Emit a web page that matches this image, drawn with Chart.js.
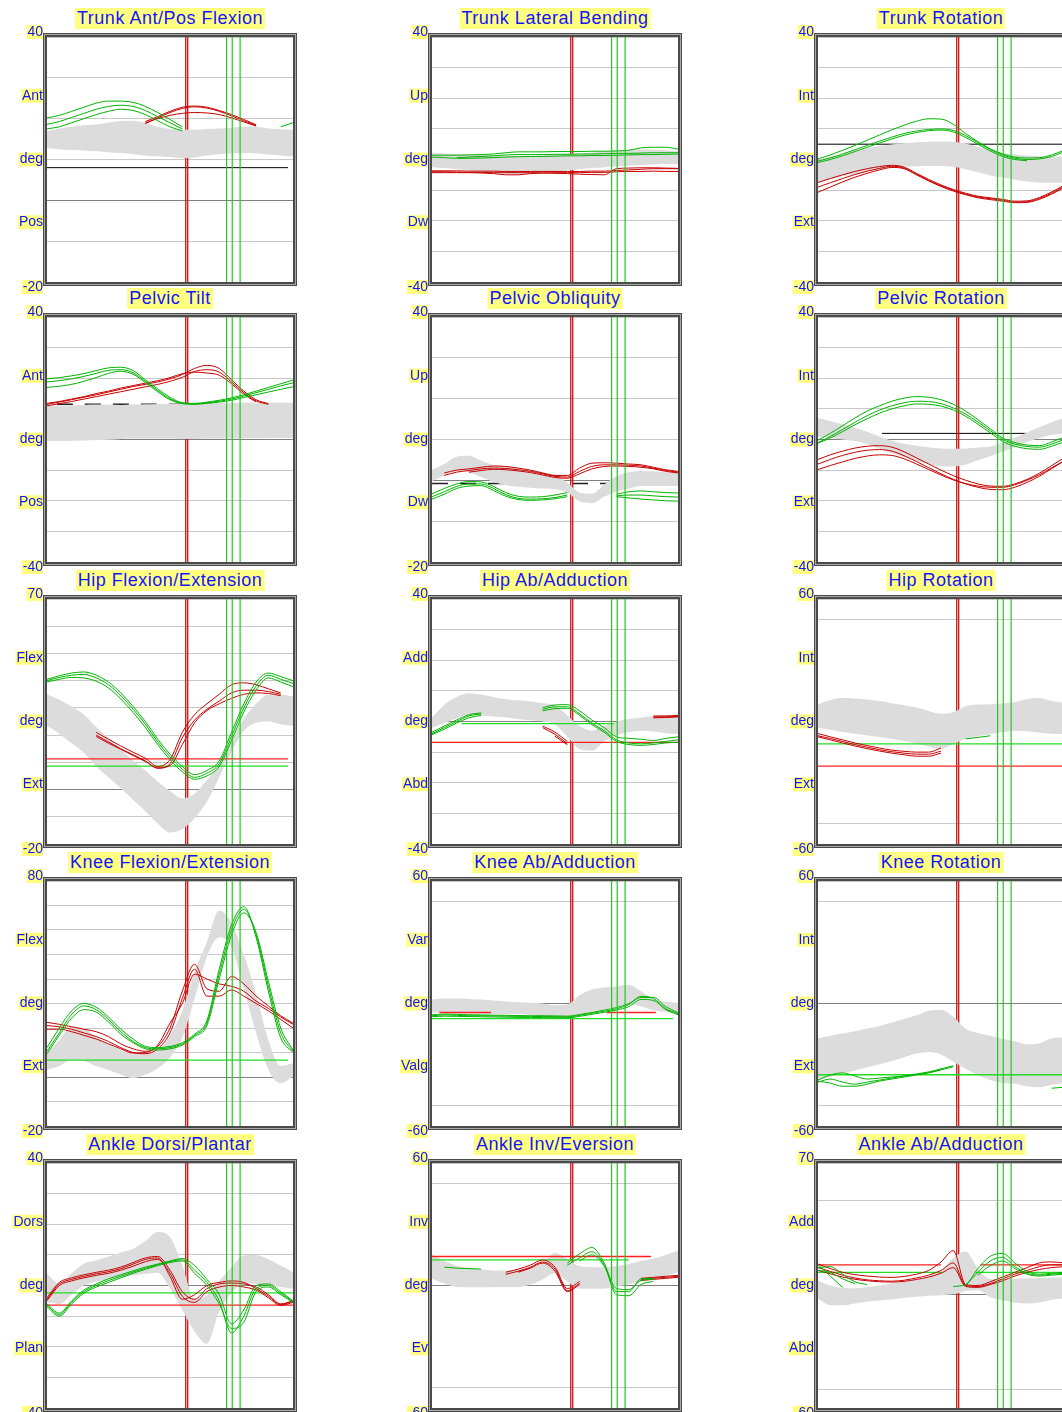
<!DOCTYPE html>
<html>
<head>
<meta charset="utf-8">
<script src="https://cdn.jsdelivr.net/npm/chart.js@4.4.0/dist/chart.umd.min.js"></script>
<style>
  body { margin: 0; width: 1062px; height: 1412px; overflow: hidden; background: #fff; position: relative; font-family: "Liberation Sans", Arial, sans-serif; }
  canvas { position: absolute; }
  .title { position: absolute; transform: translateX(-50%); background: #ffff80; color: #1414ff; font-size: 18px; letter-spacing: 0.5px; line-height: 21px; padding: 0 2px; white-space: nowrap; }
</style>
</head>
<body>
<script>
const n = null;
// gait cycle %, shared by every series
const pct = [0,5,10,15,20,25,30,35,40,45,50,55,60,65,70,75,80,85,90,95,100];
const redEvents = [56.4, 57.2];
const greenEvents = [73.0, 75.3, 78.5];

// ---- Trunk Ant/Pos Flexion ----
const tfHi = [17.0,17.6,18.0,18.4,18.6,19.0,19.4,19.5,19.0,18.0,17.5,17.3,17.3,17.5,17.6,17.8,18.1,18.0,17.6,17.4,17.3];
const tfLo = [12.8,12.5,12.3,12.2,12.0,11.8,11.6,11.3,11.0,10.8,10.6,10.3,10.5,11.0,11.3,11.5,11.6,11.5,11.2,11.0,10.8];
const tfG1 = [20.2,20.8,21.8,22.8,23.8,24.3,24.3,24.0,23.0,21.5,19.8,18.0,n,n,n,n,n,n,n,18.0,19.0];
const tfG2 = [18.6,19.3,20.3,21.3,22.3,23.0,23.3,23.0,22.0,20.5,19.0,17.5,n,n,n,n,n,n,n,n,n];
const tfG3 = [17.5,18.0,19.0,20.0,21.0,21.8,22.3,22.0,21.0,19.5,18.0,17.0,n,n,n,n,n,n,n,n,n];
const tfR1 = [n,n,n,n,n,n,n,n,19.3,20.5,21.8,22.8,23.1,22.8,22.0,21.0,19.8,18.5,n,n,n];
const tfR2 = [n,n,n,n,n,n,n,n,19.0,20.0,20.8,21.3,21.5,21.4,21.0,20.2,19.2,18.2,n,n,n];
const tfR3 = [n,n,n,n,n,n,n,n,18.8,20.2,21.5,22.5,22.9,22.6,21.8,20.7,19.5,18.3,n,n,n];
const tfBlack = [[8.0, 0, 98]];

// ---- Trunk Lateral Bending ----
const tlHi = [2.2,2.0,1.8,1.6,1.5,1.4,1.2,1.1,1.1,1.3,1.5,1.8,2.0,2.3,2.6,2.9,3.2,3.3,3.2,3.0,2.7];
const tlLo = [-2.5,-2.8,-3.2,-3.6,-4.0,-4.4,-4.7,-4.8,-4.6,-4.4,-4.0,-3.6,-3.2,-2.8,-2.5,-2.2,-2.0,-1.8,-1.6,-1.5,-1.5];
const tlG1 = [1.4,1.4,1.4,1.5,1.6,1.8,2.2,2.5,2.5,2.5,2.6,2.6,2.6,2.7,2.7,2.8,3.0,3.8,4.0,4.0,3.4];
const tlG2 = [n,n,0.6,0.8,1.0,1.2,1.5,1.6,1.6,1.6,1.7,1.7,1.8,1.8,1.9,2.0,2.0,2.1,2.2,2.2,2.2];
const tlG3 = [0.8,0.6,0.4,0.4,0.5,0.6,0.8,0.9,1.0,1.0,1.1,1.2,1.2,1.3,1.3,1.4,1.5,1.6,1.6,1.7,1.8];
const tlR1 = [-3.7,-3.7,-3.7,-3.8,-3.8,-3.8,-3.9,-3.9,-3.9,-3.9,-3.9,-3.9,-3.9,-3.8,-3.8,-3.6,-3.4,-3.2,-3.0,-3.0,-3.0];
const tlR2 = [-4.3,-4.3,-4.3,-4.3,-4.4,-4.6,-5.0,-5.0,-4.6,-4.4,-4.3,-4.3,-4.3,-4.2,-4.2,-4.0,-3.9,-3.9,-3.8,-3.9,-3.9];
const tlR3 = [-4.0,-4.0,-4.1,-4.2,-4.2,-4.3,-4.3,-4.3,-4.3,-4.4,-4.5,-4.6,-4.8,-4.9,-5.0,-3.0,-2.8,-2.7,-2.7,-2.8,-2.9];

// ---- Trunk Rotation ----
const trHi = [0.0,1.0,2.0,2.9,3.7,4.4,4.9,5.3,5.6,5.8,5.9,5.8,5.2,4.2,3.2,2.2,1.6,1.3,1.1,1.0,1.0];
const trLo = [-7.5,-6.5,-5.5,-4.7,-3.9,-3.2,-2.7,-2.4,-2.2,-2.1,-2.1,-2.4,-3.2,-4.2,-5.2,-5.9,-6.6,-7.2,-7.5,-7.6,-7.6];
const trG1 = [0.2,1.5,3.0,4.6,6.3,8.0,9.7,11.2,12.5,13.3,13.2,11.5,8.5,5.8,3.5,1.8,0.8,0.5,0.6,1.5,3.0];
const trG2 = [-0.5,0.5,1.8,3.2,4.6,6.0,7.3,8.5,9.3,9.8,10.0,9.5,7.8,5.5,3.3,1.5,0.4,0.0,0.2,1.0,2.5];
const trG3 = [-1.0,0.0,1.2,2.6,4.0,5.4,6.7,7.9,8.8,9.4,9.6,9.0,7.2,5.0,2.8,1.0,0.0,-0.4,n,n,n];
const trR1 = [-7.5,-6.2,-5.0,-3.9,-3.0,-2.3,-1.9,-2.5,-4.5,-6.5,-8.3,-9.8,-11.0,-12.0,-12.5,-13.0,-13.6,-13.5,-12.4,-10.6,-8.4];
const trR2 = [-10.7,-9.0,-7.3,-5.8,-4.5,-3.4,-2.6,-3.0,-5.0,-7.0,-8.8,-10.3,-11.5,-12.5,-13.1,-13.6,-14.1,-14.0,-13.0,-11.3,-9.2];
const trR3 = [-9.0,-7.6,-6.2,-4.9,-3.8,-2.9,-2.2,-2.8,-4.8,-6.8,-8.6,-10.0,-11.3,-12.2,-12.8,-13.3,-13.9,-13.8,-12.7,-11.0,-8.8];
const trBlack = [[5.0, 0, 100]];

// ---- Pelvic Tilt ----
const ptHi = [11.1,11.1,11.2,11.3,11.4,11.4,11.3,11.4,11.5,11.6,11.7,11.7,11.8,11.8,11.9,11.9,12.0,12.0,12.0,12.0,12.0];
const ptLo = [-0.5,-0.5,-0.4,-0.3,-0.2,-0.1,0.2,0.3,0.3,0.3,0.3,0.2,0.2,0.3,0.3,0.3,0.4,0.4,0.5,0.5,0.5];
const ptG1 = [19.8,20.2,20.8,21.5,22.5,23.4,23.6,22.5,19.5,16.5,13.8,12.0,11.8,12.2,12.8,13.6,14.6,15.8,17.0,18.2,19.4];
const ptG2 = [18.8,19.2,19.8,20.6,21.6,22.6,22.8,21.8,19.0,16.0,13.3,11.9,11.6,12.0,12.5,13.2,14.2,15.3,16.4,17.5,18.5];
const ptG3 = [17.0,17.4,18.0,19.0,20.2,21.6,22.3,21.3,18.6,15.6,13.0,11.7,11.5,11.8,12.2,12.8,13.7,14.6,15.5,16.4,17.2];
const ptR1 = [11.5,12.2,13.0,13.8,14.6,15.5,16.4,17.3,18.0,18.8,19.8,21.2,23.2,24.2,23.2,19.5,15.8,13.0,11.7,n,n];
const ptR2 = [11.0,11.7,12.4,13.2,14.0,14.8,15.6,16.4,17.2,18.0,19.0,20.3,22.2,22.8,22.0,18.8,15.3,12.6,11.5,n,n];
const ptR3 = [11.8,12.4,13.2,14.0,15.0,15.8,16.8,17.6,18.4,19.2,20.2,21.5,22.0,21.7,21.0,18.2,14.8,12.3,n,n,n];
const ptBlackDash = [[11.5, 4, 77]];

// ---- Pelvic Obliquity ----
const poHi = [2.6,4.0,5.8,6.0,4.8,3.8,3.4,3.0,2.6,2.0,1.4,-0.6,-3.0,-3.3,-1.0,1.0,2.0,2.3,2.2,2.0,1.9];
const poLo = [-0.2,1.2,2.2,2.0,0.8,-0.4,-1.2,-1.6,-1.8,-2.0,-2.2,-3.0,-5.2,-5.6,-4.0,-2.8,-2.0,-1.4,-1.4,-1.4,-1.4];
const poG1 = [-3.3,-2.0,-0.9,-0.3,-0.4,-1.5,-3.0,-3.9,-4.1,-4.0,-3.6,-3.0,n,n,n,-3.4,-2.8,-2.6,-2.8,-3.0,-3.1];
const poG2 = [-4.0,-2.8,-1.5,-0.9,-0.9,-2.0,-3.5,-4.4,-4.6,-4.5,-4.2,-3.6,n,n,n,-3.8,-3.6,-3.6,-3.8,-4.0,-4.1];
const poG3 = [-4.6,-3.4,-2.0,-1.4,-1.3,-2.5,-3.9,-4.7,-4.9,-4.8,-4.5,-4.0,n,n,n,-4.0,-4.3,-4.6,-4.8,-5.0,-5.1];
const poR1 = [n,1.8,2.5,2.8,3.2,3.5,3.4,3.0,2.5,1.8,1.2,1.2,3.0,4.2,4.3,4.2,4.0,3.8,3.2,2.6,2.2];
const poR2 = [n,1.2,2.0,2.4,2.8,3.0,2.9,2.6,2.2,1.6,1.0,0.8,2.2,3.4,3.8,3.8,3.7,3.5,3.0,2.4,2.0];
const poR3 = [n,n,n,2.0,2.4,2.7,2.6,2.3,1.9,1.3,0.7,0.5,1.6,2.8,3.4,3.5,3.4,3.2,2.8,2.2,1.8];
const poBlackDash = [[-0.8, 0, 90]];

// ---- Pelvic Rotation ----
const prHi = [7.0,6.0,5.0,3.8,2.5,1.0,-0.4,-1.4,-2.0,-2.5,-2.9,-3.0,-2.9,-2.6,-2.3,-1.0,0.6,2.3,4.0,5.6,7.0];
const prLo = [1.0,0.5,0.0,-0.5,-1.5,-3.0,-4.5,-5.8,-7.0,-8.0,-8.7,-8.8,-8.2,-6.8,-5.5,-4.0,-2.5,-0.8,0.5,1.5,2.0];
const prG1 = [-0.2,2.0,4.5,7.0,9.3,11.0,12.5,13.5,14.0,13.8,13.0,11.5,9.3,6.5,3.5,0.5,-1.0,-1.8,-2.0,-0.8,0.8];
const prG2 = [-1.0,1.0,3.3,5.6,7.8,9.6,11.0,12.0,12.5,12.4,11.7,10.3,8.3,5.7,2.9,0.0,-1.5,-2.3,-2.5,-1.5,0.0];
const prG3 = [-1.2,0.5,2.6,4.8,6.8,8.6,10.0,11.0,11.6,11.5,10.9,9.6,7.6,5.0,2.2,-0.6,-2.2,-3.0,-3.2,-2.2,-0.8];
const prR1 = [-6.5,-5.0,-3.8,-2.8,-2.2,-2.0,-2.5,-4.0,-6.0,-8.0,-10.0,-11.8,-13.3,-14.5,-15.2,-15.3,-14.5,-13.0,-11.0,-8.5,-6.0];
const prR2 = [-8.0,-6.5,-5.2,-4.2,-3.5,-3.3,-3.8,-5.3,-7.2,-9.2,-11.2,-13.0,-14.5,-15.6,-16.3,-16.4,-15.6,-14.0,-12.0,-9.5,-7.0];
const prR3 = [-9.8,-8.5,-7.3,-6.2,-5.4,-5.0,-5.2,-6.3,-8.0,-9.8,-11.6,-13.2,-14.4,-15.2,-15.6,-15.6,-14.8,-13.3,-11.5,-9.2,-7.0];
const prBlack = [[2.0, 26, 85]];

// ---- Hip Flexion/Extension ----
const hfHi = [35.0,33.0,30.5,27.5,23.0,19.0,15.0,10.7,7.0,3.0,-0.5,-3.2,-1.5,3.5,9.5,18.5,26.0,31.5,34.8,34.8,34.2];
const hfLo = [23.4,20.5,17.0,13.5,8.5,4.5,0.5,-3.7,-8.0,-12.5,-15.8,-14.5,-10.5,-4.5,4.5,14.0,21.5,24.5,25.0,24.0,23.4];
const hfG1 = [40.5,41.8,42.8,43.2,42.0,39.5,35.5,30.5,25.0,18.5,13.0,8.5,5.5,7.0,10.5,21.0,31.5,39.5,42.8,41.5,40.0];
const hfG2 = [40.0,41.2,42.0,42.3,41.0,38.5,34.5,29.5,24.0,17.5,12.0,7.5,4.5,6.0,9.5,19.5,30.0,38.0,42.0,40.5,39.0];
const hfG3 = [39.5,40.5,41.2,41.0,39.8,37.3,33.3,28.3,22.8,16.5,11.0,6.5,3.8,5.0,8.5,18.0,28.5,36.5,41.0,39.5,37.8];
const hfR1 = [n,n,n,n,21.0,18.5,16.0,13.7,11.5,8.5,11.0,21.0,27.5,31.5,35.0,38.5,39.2,38.5,37.0,35.5,n];
const hfR2 = [n,n,n,n,20.0,17.5,15.0,12.8,10.5,7.8,9.5,19.0,25.5,29.5,32.5,35.5,36.5,36.5,36.0,35.0,n];
const hfR3 = [n,n,n,n,19.5,17.0,14.8,12.5,10.3,8.0,8.8,16.5,24.5,29.0,31.5,33.5,35.0,35.5,35.3,34.5,n];
const hfRedRef = [[11.3, 0, 98]];
const hfGreenRef = [[8.6, 0, 98]];

// ---- Hip Ab/Adduction ----
const haHi = [1.2,5.5,8.0,9.2,8.8,8.0,7.3,6.9,6.5,6.0,5.3,2.0,-1.5,-3.0,-1.5,0.0,0.8,1.3,1.8,2.1,2.3];
const haLo = [-2.0,-0.5,1.0,2.3,2.0,1.6,1.3,0.8,0.4,0.0,-1.0,-5.0,-9.0,-9.5,-6.5,-4.5,-3.5,-3.0,-3.3,-3.8,-4.1];
const haG1 = [-4.0,-2.0,0.0,1.8,2.5,n,n,n,n,4.5,5.4,5.5,3.5,0.5,-2.0,-5.0,-5.5,-5.8,-6.2,-5.5,-5.0];
const haG2 = [-3.5,-1.5,0.5,2.2,2.8,n,n,n,n,4.0,4.8,4.8,2.5,-0.5,-3.0,-6.0,-7.0,-7.3,-7.0,-6.5,-6.0];
const haG3 = [-4.3,-2.5,-0.5,1.2,2.0,n,n,n,n,3.5,4.2,4.3,2.0,-1.0,-3.5,-6.5,-7.5,-7.8,-7.5,-7.0,-6.8];
const haR1 = [n,n,n,n,n,n,n,n,n,-1.5,-3.5,-6.5,n,n,n,n,n,n,1.8,1.8,2.0];
const haR2 = [n,n,n,n,n,n,n,n,n,-2.0,-4.2,-7.2,n,n,n,n,n,n,1.2,1.3,1.5];
const haR3 = [n,n,n,n,n,n,n,n,n,n,-4.8,-7.6,n,n,n,n,n,n,1.5,1.5,1.7];
const haRedRef = [[-6.8, 0, 100]];
const haGreenRef = [[-0.7, 12, 74]];

// ---- Hip Rotation ----
const hrHi = [8.3,10.5,11.5,11.3,10.8,10.0,9.0,8.0,6.8,5.2,3.8,4.5,7.5,8.3,8.5,8.8,9.5,11.0,11.5,10.0,9.1];
const hrLo = [-3.0,-4.0,-5.2,-6.0,-6.8,-7.6,-8.6,-9.6,-10.8,-12.2,-13.4,-11.0,-8.4,-7.2,-6.2,-5.2,-4.6,-4.8,-5.5,-6.0,-6.2];
const hrG1 = [n,n,n,n,n,n,n,n,n,n,n,n,-8.5,-7.8,-7.0,n,n,n,n,n,n];
const hrR1 = [-5.9,-7.5,-9.0,-10.5,-11.8,-13.0,-14.0,-14.6,-15.0,-15.0,-13.0,n,n,n,n,n,n,n,n,n,n];
const hrR2 = [-7.0,-8.3,-9.8,-11.3,-12.6,-13.8,-14.8,-15.5,-16.0,-16.0,-14.5,n,n,n,n,n,n,n,n,n,n];
const hrR3 = [-7.5,-9.0,-10.5,-12.0,-13.3,-14.5,-15.5,-16.3,-17.0,-17.0,-15.5,n,n,n,n,n,n,n,n,n,n];
const hrRedRef = [[-21.9, 0, 100]];
const hrGreenRef = [[-11.0, 0, 100]];

// ---- Knee Flexion/Extension ----
const kfHi = [10.0,15.0,20.5,20.0,16.2,13.5,11.0,9.8,10.0,11.0,17.0,27.0,43.0,55.0,68.0,63.0,50.0,34.0,15.0,4.5,5.6];
const kfLo = [2.9,4.5,7.0,6.5,4.5,2.9,1.0,-0.5,1.0,3.5,8.0,16.0,32.0,49.0,57.0,53.0,36.0,18.0,3.0,-2.5,0.2];
const kfG1 = [12.0,20.0,27.0,30.0,28.5,24.5,19.5,15.5,12.5,12.0,12.5,14.0,17.5,23.0,44.0,62.0,69.5,57.0,35.0,16.0,10.0];
const kfG2 = [10.5,18.0,25.5,29.0,27.5,23.5,18.5,14.5,12.0,11.5,12.0,13.5,17.0,22.0,42.0,60.0,68.5,58.0,37.0,18.0,10.5];
const kfG3 = [9.5,17.0,24.0,27.5,26.5,22.5,17.5,14.0,11.5,11.0,11.5,13.0,16.5,21.0,40.0,58.0,67.0,59.0,39.0,20.0,11.0];
const kfR1 = [22.3,21.5,20.5,19.5,18.5,16.5,13.5,11.5,10.5,12.5,20.0,35.0,46.0,36.0,35.0,41.0,38.0,33.0,29.0,25.0,22.0];
const kfR2 = [21.0,20.5,19.5,18.0,16.5,14.5,12.0,10.0,9.5,11.5,18.0,32.0,44.0,33.0,33.0,35.5,33.0,30.0,27.0,23.5,20.0];
const kfR3 = [19.5,19.5,18.5,17.0,15.5,13.5,11.5,9.8,10.0,13.0,22.0,30.0,42.0,40.0,38.0,37.0,35.0,31.0,28.0,24.5,21.5];
const kfGreenRef = [[6.9, 0, 98]];

// ---- Knee Ab/Adduction ----
const kaHi = [2.0,2.4,2.6,2.2,2.0,1.5,1.0,0.6,0.4,0.0,-0.8,-0.5,4.0,6.8,7.8,8.5,9.2,6.0,2.2,0.8,0.4];
const kaLo = [-4.4,-4.6,-4.8,-4.9,-5.0,-5.1,-5.2,-5.2,-5.6,-6.4,-7.2,-7.4,-6.0,-4.0,-3.0,-1.8,-0.4,-1.5,-3.3,-4.0,-4.4];
const kaG1 = [-6.0,-5.6,-5.8,-6.0,-6.0,-6.1,-6.2,-6.3,-6.3,-6.4,-6.5,-6.6,-5.8,-4.8,-3.8,-2.6,-0.5,3.5,2.5,-2.5,-5.0];
const kaG2 = [-6.5,-6.2,-6.3,-6.4,-6.5,-6.6,-6.7,-6.8,-6.8,-6.9,-7.0,-7.0,-6.3,-5.3,-4.3,-3.2,-1.5,2.0,1.5,-3.0,-5.5];
const kaG3 = [-5.5,-5.2,-5.3,-5.5,-5.6,-5.7,-5.8,-5.9,-6.0,-6.0,-6.1,-6.2,-5.4,-4.4,-3.2,-2.0,0.0,3.0,3.0,-1.5,-4.5];
const kaRedRef = [[-4.4, 3, 24], [-4.4, 71, 91]];
const kaGreenRef = [[-7.4, 0, 98]];

// ---- Knee Rotation ----
const krHi = [-17.0,-15.8,-14.7,-13.6,-12.3,-11.0,-9.3,-7.6,-5.8,-3.5,-3.0,-6.5,-12.4,-14.5,-15.8,-17.3,-18.5,-20.0,-19.5,-17.0,-16.5];
const krLo = [-37.5,-36.0,-34.2,-32.8,-31.2,-29.7,-28.2,-26.3,-24.5,-23.8,-25.0,-28.5,-32.0,-35.2,-37.5,-39.0,-39.3,-40.5,-41.0,-39.8,-39.0];
const krG1 = [-37.5,-35.0,-34.0,-35.5,-37.0,-36.5,-36.0,-35.5,-34.8,-34.0,-32.5,-31.0,n,n,n,n,n,n,n,-41.5,-41.0];
const krG2 = [-38.5,-37.0,-38.5,-39.5,-38.5,-37.5,-36.5,-35.5,-34.5,-33.5,-32.0,-30.5,n,n,n,n,n,n,n,n,n];
const krG3 = [-38.0,-39.0,-40.5,-40.5,-39.5,-38.0,-37.0,-36.0,-35.0,-33.8,-32.5,n,n,n,n,n,n,n,n,n,n];
const krGreenRef = [[-34.9, 0, 100]];

// ---- Ankle Dorsi/Plantar ----
const adHi = [3.8,0.5,4.0,7.2,8.2,9.5,10.8,12.0,14.5,17.5,15.8,6.5,-4.5,-3.2,1.5,6.0,9.8,10.0,8.6,6.5,4.3];
const adLo = [-5.3,-6.0,-3.0,0.0,1.2,2.0,2.8,3.3,3.8,4.2,-1.0,-8.0,-15.0,-19.0,-8.5,-2.5,0.8,0.5,0.0,-0.5,-1.1];
const adG1 = [-6.0,-9.0,-5.0,-1.5,0.5,2.2,3.5,4.8,6.0,7.0,8.0,8.8,6.5,2.0,-3.0,-12.5,-8.0,0.0,0.5,-2.0,-5.0];
const adG2 = [-7.0,-10.0,-6.0,-2.5,-0.5,1.0,2.5,4.0,5.3,6.5,7.5,8.0,4.0,0.0,-6.0,-14.0,-12.0,-2.0,-0.5,-3.0,-5.5];
const adG3 = [-6.5,-9.5,-5.5,-2.0,0.0,1.6,3.0,4.4,5.6,6.8,7.8,8.4,5.0,1.0,-5.0,-15.5,-10.0,-1.0,0.0,-2.5,-5.3];
const adR1 = [-4.0,1.0,2.5,3.5,4.3,5.0,6.0,7.5,9.0,9.5,5.0,-2.0,-4.5,-1.0,0.5,0.8,0.5,-0.5,-3.0,-6.0,-5.0];
const adR2 = [-5.0,0.0,1.5,2.5,3.3,4.0,5.0,6.3,7.8,8.5,4.0,-3.5,-5.5,-2.0,-0.5,0.0,-0.5,-1.5,-4.0,-6.5,-5.5];
const adR3 = [-4.5,0.5,2.0,3.0,3.8,4.5,5.5,7.0,8.5,9.0,3.0,-4.5,-3.0,0.0,1.0,1.5,1.0,-1.0,-3.5,-6.2,-5.2];
const adRedRef = [[-6.4, 0, 100]];
const adGreenRef = [[-2.4, 0, 100]];

// ---- Ankle Inv/Eversion ----
const aiHi = [15.3,12.0,9.7,8.5,7.8,7.4,7.4,8.0,9.0,11.0,16.0,13.0,9.5,9.0,8.9,9.5,10.5,12.0,13.2,15.0,17.0];
const aiLo = [3.3,1.0,-0.7,-0.8,-0.8,-0.8,-0.7,-0.7,0.5,3.0,6.0,2.0,-1.5,-1.6,-1.5,-0.5,0.5,1.8,2.8,4.5,6.5];
const aiG1 = [n,9.0,8.5,8.3,8.0,n,n,n,n,n,n,11.0,15.5,18.6,11.0,-3.0,-3.0,3.3,3.5,n,n];
const aiG2 = [n,n,n,n,n,n,n,n,n,n,n,10.0,13.5,16.5,10.0,-4.5,-5.0,0.5,2.0,n,n];
const aiG3 = [n,n,n,n,n,n,n,n,n,n,n,n,12.0,15.0,9.5,-1.5,-2.0,2.5,3.0,n,n];
const aiR1 = [n,n,n,n,n,n,6.5,8.0,10.0,12.5,9.0,-1.5,2.0,n,n,n,n,3.5,4.0,4.5,5.0];
const aiR2 = [n,n,n,n,n,n,5.5,7.0,9.0,11.5,8.0,-2.5,1.0,n,n,n,n,2.5,3.0,3.5,4.0];
const aiR3 = [n,n,n,n,n,n,n,6.5,8.5,11.0,7.0,-3.0,0.5,n,n,n,n,3.0,3.5,4.0,4.5];
const aiRedRef = [[14.2, 0, 89]];
const aiGreenRef = [[12.6, 0, 80]];

// ---- Ankle Ab/Adduction ----
const aaHi = [7.7,5.0,3.8,3.5,4.2,5.0,6.0,7.0,8.0,9.8,13.0,19.5,23.0,14.0,8.5,8.5,8.5,8.8,9.0,9.2,9.4];
const aaLo = [-1.9,-5.5,-5.5,-4.5,-3.6,-3.0,-2.3,-1.6,-1.0,-0.5,-0.2,0.5,2.0,2.5,-1.2,-2.8,-4.0,-4.5,-4.0,-2.5,-1.9];
const aaG1 = [16.0,10.0,4.0,n,n,n,n,n,n,n,n,4.5,5.5,14.0,20.5,22.0,17.0,12.5,11.0,11.5,12.0];
const aaG2 = [14.5,15.0,11.0,7.0,5.5,n,n,n,n,n,n,n,5.0,12.0,18.0,20.0,15.0,11.5,10.5,11.0,11.5];
const aaG3 = [13.0,12.0,8.5,6.0,n,n,n,n,n,n,n,n,n,10.5,15.5,18.0,14.0,11.0,10.0,10.5,11.0];
const aaR1 = [16.4,14.0,12.0,10.8,10.0,9.5,9.3,9.8,11.0,13.0,17.5,23.5,5.5,5.0,7.0,9.5,12.0,14.5,17.0,17.5,17.0];
const aaR2 = [14.5,12.5,10.5,9.0,8.0,7.5,7.3,7.8,9.0,10.5,13.0,17.0,5.0,4.5,6.0,8.5,11.0,13.0,15.0,16.0,16.0];
const aaR3 = [13.0,11.2,9.5,8.3,7.5,7.0,6.8,7.2,8.2,9.5,11.5,14.5,4.5,4.0,5.5,7.5,10.0,12.0,13.5,14.5,15.0];
const aaRedRef = [[15.9, 0, 50], [15.9, 66, 100]];
const aaGreenRef = [[12.0, 0, 50], [12.0, 64, 100]];

const panels = [
  { title: 'Trunk Ant/Pos Flexion', max: 40, min: -20, step: 10, words: ['Ant', 'Pos'], hi: tfHi, lo: tfLo, reds: [tfR1, tfR2, tfR3], greens: [tfG1, tfG2, tfG3], black: tfBlack },
  { title: 'Trunk Lateral Bending', max: 40, min: -40, step: 10, words: ['Up', 'Dw'], hi: tlHi, lo: tlLo, reds: [tlR1, tlR2, tlR3], greens: [tlG1, tlG2, tlG3] },
  { title: 'Trunk Rotation', max: 40, min: -40, step: 10, words: ['Int', 'Ext'], hi: trHi, lo: trLo, reds: [trR1, trR2, trR3], greens: [trG1, trG2, trG3], black: trBlack },
  { title: 'Pelvic Tilt', max: 40, min: -40, step: 10, words: ['Ant', 'Pos'], hi: ptHi, lo: ptLo, reds: [ptR1, ptR2, ptR3], greens: [ptG1, ptG2, ptG3], blackDash: ptBlackDash },
  { title: 'Pelvic Obliquity', max: 40, min: -20, step: 10, words: ['Up', 'Dw'], hi: poHi, lo: poLo, reds: [poR1, poR2, poR3], greens: [poG1, poG2, poG3], blackDash: poBlackDash },
  { title: 'Pelvic Rotation', max: 40, min: -40, step: 10, words: ['Int', 'Ext'], hi: prHi, lo: prLo, reds: [prR1, prR2, prR3], greens: [prG1, prG2, prG3], black: prBlack },
  { title: 'Hip Flexion/Extension', max: 70, min: -20, step: 10, words: ['Flex', 'Ext'], hi: hfHi, lo: hfLo, reds: [hfR1, hfR2, hfR3], greens: [hfG1, hfG2, hfG3], redRef: hfRedRef, greenRef: hfGreenRef },
  { title: 'Hip Ab/Adduction', max: 40, min: -40, step: 10, words: ['Add', 'Abd'], hi: haHi, lo: haLo, reds: [haR1, haR2, haR3], greens: [haG1, haG2, haG3], redRef: haRedRef, greenRef: haGreenRef },
  { title: 'Hip Rotation', max: 60, min: -60, step: 50, words: ['Int', 'Ext'], hi: hrHi, lo: hrLo, reds: [hrR1, hrR2, hrR3], greens: [hrG1], redRef: hrRedRef, greenRef: hrGreenRef },
  { title: 'Knee Flexion/Extension', max: 80, min: -20, step: 10, words: ['Flex', 'Ext'], hi: kfHi, lo: kfLo, reds: [kfR1, kfR2, kfR3], greens: [kfG1, kfG2, kfG3], greenRef: kfGreenRef },
  { title: 'Knee Ab/Adduction', max: 60, min: -60, step: 50, words: ['Var', 'Valg'], hi: kaHi, lo: kaLo, reds: [], greens: [kaG1, kaG2, kaG3], redRef: kaRedRef, greenRef: kaGreenRef },
  { title: 'Knee Rotation', max: 60, min: -60, step: 50, words: ['Int', 'Ext'], hi: krHi, lo: krLo, reds: [], greens: [krG1, krG2, krG3], greenRef: krGreenRef },
  { title: 'Ankle Dorsi/Plantar', max: 40, min: -40, step: 10, words: ['Dors', 'Plan'], hi: adHi, lo: adLo, reds: [adR1, adR2, adR3], greens: [adG1, adG2, adG3], redRef: adRedRef, greenRef: adGreenRef },
  { title: 'Ankle Inv/Eversion', max: 60, min: -60, step: 50, words: ['Inv', 'Ev'], hi: aiHi, lo: aiLo, reds: [aiR1, aiR2, aiR3], greens: [aiG1, aiG2, aiG3], redRef: aiRedRef, greenRef: aiGreenRef },
  { title: 'Ankle Ab/Adduction', max: 70, min: -60, step: 50, words: ['Add', 'Abd'], hi: aaHi, lo: aaLo, reds: [aaR1, aaR2, aaR3], greens: [aaG1, aaG2, aaG3], redRef: aaRedRef, greenRef: aaGreenRef }
];

// plot area placement (left edge of each column, top edge of each row)
const colLeft = [47, 432, 818];
const rowTop = [37, 317, 599, 881, 1163];
const AREA_W = 246, AREA_H = 245, AXIS_W = 47;

const BLUE = '#1414ff', YELLOW = '#ffff80';

// thick sunken border around the plot area
const framePlugin = {
  id: 'frame',
  afterDraw(chart) {
    const { ctx, chartArea: a } = chart;
    ctx.save();
    ctx.strokeStyle = '#4a4a4a';
    ctx.lineWidth = 4;
    ctx.strokeRect(a.left - 2, a.top - 2, a.right - a.left + 4, a.bottom - a.top + 4);
    ctx.strokeStyle = '#a8a8a8';
    ctx.lineWidth = 1;
    ctx.strokeRect(a.left - 2.5, a.top - 2.5, a.right - a.left + 5, a.bottom - a.top + 5);
    ctx.restore();
  }
};

function series(arr) {
  return pct.map((x, i) => ({ x, y: arr[i] }));
}

function lineDs(data, color, width, order, extra) {
  return Object.assign({ data, borderColor: color, borderWidth: width, pointRadius: 0, fill: false, order,
    cubicInterpolationMode: 'monotone' }, extra || {});
}

function buildPanel(p, idx) {
  const col = idx % 3, row = Math.floor(idx / 3);
  const left = colLeft[col], top = rowTop[row];

  const title = document.createElement('div');
  title.className = 'title';
  title.textContent = p.title;
  title.style.left = (left + AREA_W / 2) + 'px';
  title.style.top = (top - 29) + 'px';
  document.body.appendChild(title);

  const cv = document.createElement('canvas');
  cv.width = AXIS_W + AREA_W + 5;
  cv.height = 37 + AREA_H + 15;
  cv.style.left = (left - AXIS_W) + 'px';
  cv.style.top = (top - 37) + 'px';
  document.body.appendChild(cv);

  const ds = [];
  (p.black || []).forEach(([v, a, b]) => ds.push(lineDs([{ x: a, y: v }, { x: b, y: v }], '#000000', 1, 60)));
  (p.blackDash || []).forEach(([v, a, b]) => ds.push(lineDs([{ x: a, y: v }, { x: b, y: v }], '#202020', 1.5, 60, { borderDash: [16, 12] })));
  redEvents.forEach(e => ds.push(lineDs([{ x: e, y: p.min }, { x: e, y: p.max }], '#cc1010', 1.3, 50)));
  // normal range band
  ds.push(lineDs(series(p.hi), 'rgba(0,0,0,0)', 0, 40, { fill: '+1', backgroundColor: '#dcdcdc' }));
  ds.push(lineDs(series(p.lo), 'rgba(0,0,0,0)', 0, 41));
  (p.redRef || []).forEach(([v, a, b]) => ds.push(lineDs([{ x: a, y: v }, { x: b, y: v }], '#ff2020', 1.3, 30)));
  (p.greenRef || []).forEach(([v, a, b]) => ds.push(lineDs([{ x: a, y: v }, { x: b, y: v }], '#22dd22', 1.3, 30)));
  p.reds.forEach(r => ds.push(lineDs(series(r), '#c80000', 1, 20)));
  p.greens.forEach(g => ds.push(lineDs(series(g), '#00b400', 1, 15)));
  greenEvents.forEach(e => ds.push(lineDs([{ x: e, y: p.min }, { x: e, y: p.max }], '#20c820', 1.2, 10)));

  const span = p.max - p.min;
  const nudge = 5 * span / AREA_H;   // end labels sit a little outside the plot edges
  const labels = [String(p.min), p.words[1], 'deg', p.words[0], String(p.max)];

  new Chart(cv, {
    type: 'line',
    data: { datasets: ds },
    plugins: [framePlugin],
    options: {
      responsive: false,
      animation: false,
      devicePixelRatio: 1,
      layout: { padding: { top: 37, right: 5, bottom: 15, left: 0 } },
      plugins: { legend: { display: false }, tooltip: { enabled: false } },
      scales: {
        x: { type: 'linear', min: 0, max: 100, display: false },
        y: {
          position: 'right', min: p.min, max: p.max,
          ticks: { display: false, stepSize: p.step },
          border: { display: false },
          grid: { drawTicks: false, lineWidth: 1, color: c => (c.tick && c.tick.value === 0) ? '#808080' : '#c8c8c8' }
        },
        yl: {
          position: 'left', min: p.min, max: p.max,
          grid: { display: false, drawTicks: false }, border: { display: false },
          afterBuildTicks: s => {
            s.ticks = [p.min - nudge, p.min + span / 4 - 1.5 * nudge / 5, p.min + span / 2, p.min + 3 * span / 4 + 2.5 * nudge / 5, p.max + nudge].map(v => ({ value: v }));
          },
          afterFit: s => { s.width = AXIS_W; },
          ticks: {
            autoSkip: false, padding: 4, color: BLUE,
            font: { family: 'Liberation Sans', size: 14, lineHeight: 1 },
            showLabelBackdrop: true, backdropColor: YELLOW,
            backdropPadding: { top: 0, bottom: 0, left: 1, right: 0 },
            callback: (v, i) => labels[i]
          }
        }
      }
    }
  });
}

panels.forEach(buildPanel);
</script>
</body>
</html>
